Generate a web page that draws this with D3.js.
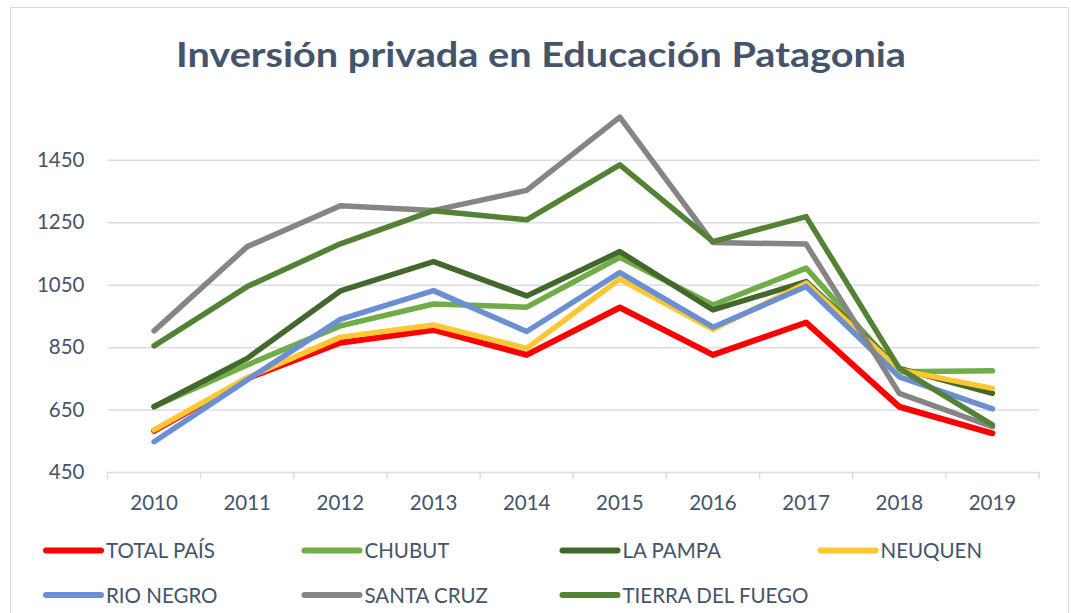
<!DOCTYPE html>
<html>
<head>
<meta charset="utf-8">
<script src="https://cdn.jsdelivr.net/npm/d3@7"></script>
<style>
  html, body { margin: 0; padding: 0; background: #ffffff; }
  svg { display: block; }
  text { font-family: Lato, "Open Sans", sans-serif; }
</style>
</head>
<body>
<svg id="chart" width="1071" height="613"></svg>
<script>
// ---- data ----
const years = ["2010","2011","2012","2013","2014","2015","2016","2017","2018","2019"];
const yTicks = [450, 650, 850, 1050, 1250, 1450];
const seriesNames = ["TOTAL PAÍS","CHUBUT","LA PAMPA","NEUQUEN","RIO NEGRO","SANTA CRUZ","TIERRA DEL FUEGO"];
const totalPais      = [582, 750, 864, 905, 825, 977, 825, 929, 659, 574];
const chubut         = [660, 793, 918, 988, 978, 1138, 985, 1103, 771, 774];
const laPampa        = [659, 814, 1030, 1124, 1014, 1156, 969, 1060, 782, 702];
const neuquen        = [585, 752, 882, 921, 846, 1068, 907, 1055, 777, 718];
const rioNegro       = [547, 745, 939, 1031, 900, 1089, 914, 1044, 755, 652];
const santaCruz      = [902, 1172, 1303, 1288, 1352, 1587, 1185, 1180, 702, 595];
const tierraDelFuego = [854, 1044, 1181, 1287, 1258, 1434, 1188, 1268, 782, 601];
const chartTitle = "Inversión privada en Educación Patagonia";

// ---- styles ----
const colors = ["#FF0000", "#70AD47", "#43682B", "#FFC832", "#6A8FD3", "#858585", "#548235"];
const widths = [6, 5.5, 5.5, 5.5, 5.5, 5.5, 5.5];
const textColor = "#44546A";
const gridColor = "#D9DEE6";

const seriesValues = [totalPais, chubut, laPampa, neuquen, rioNegro, santaCruz, tierraDelFuego];
const series = seriesNames.map((n, i) => ({ name: n, values: seriesValues[i], color: colors[i], width: widths[i] }));

const svg = d3.select("#chart");

// chart frame
svg.append("rect")
  .attr("x", 10.5).attr("y", 7.5)
  .attr("width", 1058).attr("height", 620)
  .attr("fill", "#ffffff")
  .attr("stroke", "#D9D9D9").attr("stroke-width", 1);

const plot = { left: 107.5, right: 1039, top: 113, bottom: 472 };

const x = d3.scaleBand().domain(years).range([plot.left, plot.right]).paddingInner(0).paddingOuter(0);
const y = d3.scaleLinear().domain([450, 1600]).range([plot.bottom, plot.top]);

// title
svg.append("text")
  .attr("x", 541).attr("y", 67)
  .attr("text-anchor", "middle")
  .attr("font-size", 33.5)
  .attr("font-weight", "bold")
  .attr("fill", textColor)
  .attr("textLength", 730)
  .attr("lengthAdjust", "spacingAndGlyphs")
  .text(chartTitle);

// gridlines
const yAxisG = svg.append("g")
  .attr("transform", `translate(${plot.left},0)`)
  .call(d3.axisLeft(y).tickValues(yTicks).tickSize(-(plot.right - plot.left)).tickPadding(23).tickFormat(d3.format("d")));
yAxisG.select(".domain").remove();
yAxisG.selectAll(".tick line").attr("stroke", gridColor).attr("stroke-width", 1.5)
  .filter(d => d === 450).remove();
yAxisG.selectAll(".tick text")
  .attr("fill", textColor)
  .attr("font-size", 20.5)
  .attr("font-family", "Lato, sans-serif");

// x axis
const xAxisG = svg.append("g")
  .attr("transform", `translate(0,${plot.bottom})`)
  .call(d3.axisBottom(x).tickSize(0).tickPadding(23));
xAxisG.select(".domain").attr("stroke", gridColor).attr("stroke-width", 1.5);
xAxisG.selectAll(".tick text")
  .attr("fill", textColor)
  .attr("font-size", 20.5)
  .attr("font-family", "Lato, sans-serif");
// tick marks at band boundaries
const boundaries = years.map(yr => x(yr)).concat([x(years[years.length - 1]) + x.bandwidth()]);
xAxisG.selectAll("line.bound")
  .data(boundaries)
  .join("line")
  .attr("class", "bound")
  .attr("x1", d => d).attr("x2", d => d)
  .attr("y1", 0).attr("y2", 7)
  .attr("stroke", gridColor).attr("stroke-width", 1.5);

// lines
const line = d3.line()
  .x((d, i) => x(years[i]) + x.bandwidth() / 2)
  .y(d => y(d));

svg.append("g").selectAll("path")
  .data(series)
  .join("path")
  .attr("d", d => line(d.values))
  .attr("fill", "none")
  .attr("stroke", d => d.color)
  .attr("stroke-width", d => d.width)
  .attr("stroke-linejoin", "round")
  .attr("stroke-linecap", "round");

// legend
const legendCols = [46, 304.5, 562.5, 820.5];
const legendRows = [550.5, 595];
const legend = svg.append("g").selectAll("g")
  .data(series)
  .join("g")
  .attr("transform", (d, i) => `translate(${legendCols[i % 4]},${legendRows[Math.floor(i / 4)]})`);
legend.append("line")
  .attr("x1", 0).attr("x2", 55)
  .attr("y1", 0).attr("y2", 0)
  .attr("stroke", d => d.color)
  .attr("stroke-width", 6)
  .attr("stroke-linecap", "round");
legend.append("text")
  .attr("x", 60).attr("y", 7.5)
  .attr("font-size", 20.5)
  .attr("fill", textColor)
  .text(d => d.name);
</script>
</body>
</html>
